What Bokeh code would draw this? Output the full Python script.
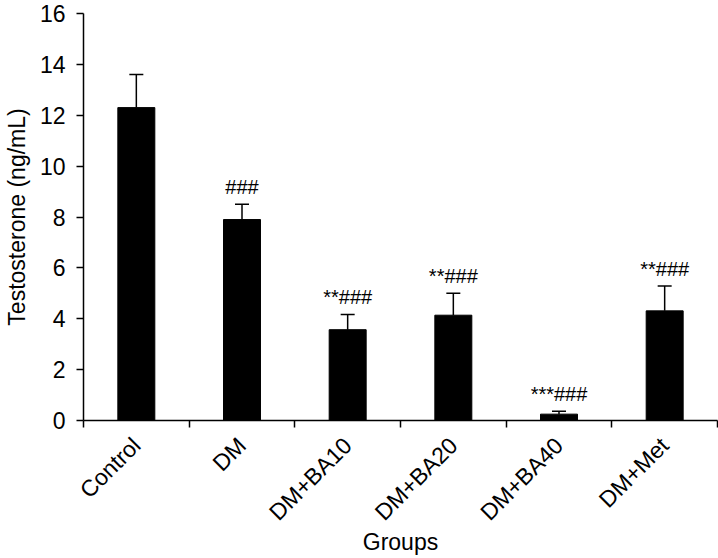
import math
from bokeh.plotting import figure
from bokeh.models import (Range1d, FixedTicker, Whisker, TeeHead, ColumnDataSource)
from bokeh.embed import file_html
from bokeh.resources import INLINE
from bokeh.core.properties import value

# ---- data ----
groups = ["Control", "DM", "DM+BA10", "DM+BA20", "DM+BA40", "DM+Met"]
means = [12.3, 7.9, 3.57, 4.14, 0.25, 4.31]
errors = [1.3, 0.6, 0.6, 0.86, 0.11, 0.98]
marks = ["", "###", "**###", "**###", "***###", "**###"]
y_ticks = [0, 2, 4, 6, 8, 10, 12, 14, 16]

# category slots: one unit per group, bars at the slot centres
centers = [i + 0.5 for i in range(len(groups))]
bounds = list(range(len(groups) + 1))
upper = [m + e for m, e in zip(means, errors)]
src = ColumnDataSource(dict(x=centers, g=groups, m=means, up=upper, mk=marks))

FONT = "Liberation Sans"
FS = "23px"

p = figure(width=718, height=558,
           x_range=Range1d(0, len(groups)),
           y_range=Range1d(0, 16),
           output_backend="svg", toolbar_location=None,
           min_border_left=79, min_border_right=1,
           min_border_top=13, min_border_bottom=137)

xa = p.xaxis[0]
xa.ticker = FixedTicker(ticks=centers, minor_ticks=bounds)
xa.major_label_overrides = {c: g for c, g in zip(centers, groups)}
xa.major_label_orientation = math.pi / 4
xa.major_tick_out = 0
xa.major_tick_in = 0
xa.minor_tick_out = 7
xa.minor_tick_in = 0
xa.minor_tick_line_color = "black"
xa.minor_tick_line_width = 1.5
xa.axis_line_width = 1.5
xa.axis_line_color = "black"
xa.major_label_standoff = 14
xa.major_label_text_font = FONT
xa.major_label_text_font_size = FS
xa.major_label_text_color = "black"
xa.axis_label = "Groups"
xa.axis_label_text_font = FONT
xa.axis_label_text_font_size = FS
xa.axis_label_text_font_style = "normal"
xa.axis_label_text_color = "black"
xa.axis_label_standoff = -8

ya = p.yaxis[0]
ya.ticker = FixedTicker(ticks=y_ticks)
ya.major_tick_out = 7
ya.major_tick_in = 0
ya.minor_tick_out = 0
ya.minor_tick_in = 0
ya.major_tick_line_width = 1.5
ya.major_tick_line_color = "black"
ya.axis_line_width = 1.5
ya.axis_line_color = "black"
ya.major_label_standoff = 11
ya.major_label_text_font = FONT
ya.major_label_text_font_size = FS
ya.major_label_text_color = "black"
ya.axis_label = "Testosterone (ng/mL)"
ya.axis_label_text_font = FONT
ya.axis_label_text_font_size = FS
ya.axis_label_text_font_style = "normal"
ya.axis_label_text_color = "black"
ya.axis_label_standoff = 7

p.xgrid.visible = False
p.ygrid.visible = False
p.outline_line_color = None

p.vbar(x="x", top="m", width=0.35, source=src, fill_color="black", line_color="black")

w = Whisker(base="x", lower="m", upper="up", source=src, dimension="height",
            lower_head=None,
            upper_head=TeeHead(size=14, line_width=1.5, line_color="black"),
            line_width=1.5, line_color="black")
p.add_layout(w)

p.text(x="x", y="up", text="mk", source=src, text_align="center",
       text_baseline="bottom", y_offset=-6, text_font=value(FONT),
       text_font_size="20px", text_color="black")

open("out.html", "w").write(file_html(p, INLINE))
